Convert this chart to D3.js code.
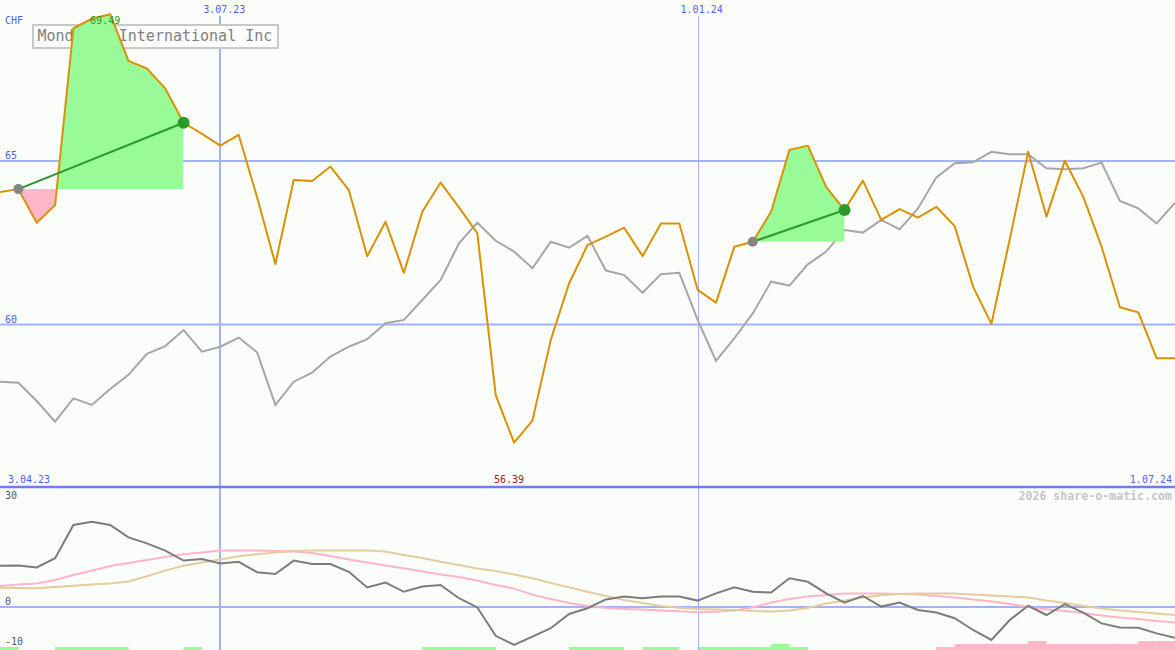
<!DOCTYPE html>
<html><head><meta charset="utf-8">
<script src="https://cdn.jsdelivr.net/npm/d3@7"></script>
<style>
html,body{margin:0;padding:0;background:#fbfdfb;}
svg{display:block;}
text{font-family:"DejaVu Sans Mono","Liberation Mono",monospace;}
</style></head><body>
<svg id="c" width="1175" height="650"></svg>
<script>
const title = "Mondelez International Inc";
const currency = "CHF";
const firstWeek = "2023-04-10";
const lastWeek = "2024-07-01";
const startLabel = "3.04.23";
const endLabel = "1.07.24";
const gridDates = ["2023-07-03", "2024-01-01"];
const gridDateLabels = ["3.07.23", "1.01.24"];
const priceTicks = [65, 60];
const lowerTicks = [30, 0, -10];
const watermark = "2026 share-o-matic.com";

// weekly closes (CHF)
const price = [64.05, 64.14, 63.11, 63.65, 69.06, 69.35, 69.49, 68.06, 67.83, 67.22,
  66.17, 65.83, 65.47, 65.80, 63.90, 61.85, 64.42, 64.39, 64.83, 64.11,
  62.09, 63.14, 61.58, 63.45, 64.34, 63.58, 62.79, 57.84, 56.39, 57.06,
  59.53, 61.26, 62.43, 62.69, 62.96, 62.09, 63.09, 63.09, 61.06, 60.67,
  62.38, 62.53, 63.45, 65.34, 65.47, 64.21, 63.50, 64.40, 63.20, 63.53,
  63.27, 63.60, 63.01, 61.16, 60.02, 62.61, 65.28, 63.30, 65.01, 63.91,
  62.38, 60.53, 60.37, 58.97, 58.97];
// benchmark (rebased)
const bench = [58.25, 58.22, 57.66, 57.03, 57.74, 57.54, 58.03, 58.46, 59.10, 59.34,
  59.83, 59.17, 59.32, 59.60, 59.15, 57.54, 58.25, 58.53, 59.02, 59.32,
  59.55, 60.04, 60.14, 60.75, 61.36, 62.48, 63.11, 62.56, 62.23, 61.72,
  62.53, 62.35, 62.71, 61.65, 61.51, 60.97, 61.54, 61.58, 60.14, 58.89,
  59.58, 60.34, 61.31, 61.19, 61.84, 62.23, 62.89, 62.81, 63.20, 62.91,
  63.55, 64.50, 64.93, 64.96, 65.28, 65.21, 65.21, 64.78, 64.75, 64.78,
  64.95, 63.78, 63.55, 63.09, 63.72];
// lower indicator
const momentum = [10.3, 10.4, 9.9, 12.2, 20.5, 21.3, 20.5, 17.4, 15.9, 14.1,
  11.6, 12.0, 10.9, 11.3, 8.7, 8.25, 11.6, 10.75, 10.75, 8.8,
  4.9, 6.1, 3.8, 5.1, 5.5, 2.2, -0.1, -7.2, -9.5, -7.4,
  -5.3, -1.75, -0.3, 1.9, 2.6, 2.2, 2.6, 2.6, 1.6, 3.4,
  4.9, 3.8, 3.6, 7.2, 6.3, 3.4, 1.1, 2.75, 0.1, 1.1,
  -0.75, -1.4, -2.8, -5.75, -8.25, -3.25, 0.3, -2.0, 0.7, -1.4,
  -4.1, -5.1, -5.2, -6.6, -7.7];
const avgFast = [5.25, 5.6, 5.9, 6.75, 8.0, 9.1, 10.25, 11.0, 11.75, 12.5,
  13.2, 13.6, 14.1, 14.1, 14.1, 14.0, 13.9, 13.5, 12.75, 11.9,
  11.1, 10.4, 9.7, 8.9, 8.1, 7.5, 6.6, 5.5, 4.6, 3.1,
  2.0, 1.0, 0.25, -0.25, -0.5, -0.65, -0.9, -1.05, -1.3, -1.2,
  -0.9, -0.1, 1.1, 2.0, 2.6, 3.0, 3.4, 3.4, 3.4, 3.25,
  3.1, 2.75, 2.4, 1.9, 1.4, 0.75, 0, -0.55, -1.0, -1.5,
  -2.1, -2.6, -3.0, -3.5, -3.9];
const avgSlow = [4.8, 4.75, 4.7, 5.0, 5.3, 5.6, 5.9, 6.4, 7.7, 9.1,
  10.3, 11.1, 11.9, 12.7, 13.2, 13.6, 14.0, 14.1, 14.1, 14.1,
  14.1, 13.9, 13.0, 12.25, 11.3, 10.5, 9.6, 9.0, 8.1, 7.2,
  6.0, 4.9, 3.8, 2.75, 1.75, 1.0, 0.25, -0.2, -0.5, -0.6,
  -0.75, -1.0, -1.1, -0.9, -0.25, 0.9, 1.6, 2.4, 2.95, 3.25,
  3.4, 3.4, 3.4, 3.1, 2.9, 2.6, 2.4, 1.6, 1.0, 0.25,
  -0.4, -0.9, -1.25, -1.6, -2.0];
const signalBars = [1, 0, 0, 1, 1, 1, 1, 0, 0, 0,
  1, 0, 0, 0, 0, 0, 0, 0, 0, 0,
  0, 0, 0, 1, 1, 1, 1, 0, 0, 0,
  0, 1, 1, 1, 0, 1, 1, 0, 1, 1,
  1, 1, 2, 1, 0, 0, 0, 0, 0, 0,
  0, -1, -2, -2, -2, -2, -3, -2, -2, -2,
  -2, -2, -3, -3, -3];
// highlighted trend segments (start week index, end week index)
const trendStart = [1, 41];
const trendEnd = [10, 46];

const parse = d3.utcParse("%Y-%m-%d");
const week0 = parse(firstWeek);
const dates = price.map((_, i) => d3.utcDay.offset(week0, 7 * i));

const svg = d3.select("#c");
const W = 1175, H = 650;
const bg = "#fbfdfb";
const gridCol = "#a3b2f3";
const blue = "#4f5ff0";

const x = d3.scaleUtc().domain([week0, parse(lastWeek)]).range([0, W]);
const y = d3.scaleLinear().domain([60, 65]).range([324.5, 161]);
const yl = d3.scaleLinear().domain([-10, 30]).range([647, 487]);
const yb = d3.scaleLinear().domain([0, 3]).range([H, 641]);

svg.append("rect").attr("width", W).attr("height", H).attr("fill", bg);

// clip paths
const defs = svg.append("defs");
defs.append("clipPath").attr("id", "top").append("rect").attr("x", 0).attr("y", 0).attr("width", W).attr("height", 486);
defs.append("clipPath").attr("id", "bot").append("rect").attr("x", 0).attr("y", 488).attr("width", W).attr("height", H - 488);

// bars in lower panel
svg.append("g").selectAll("rect").data(signalBars.map((v, i) => ({v, i})).filter(d => d.v !== 0))
  .join("rect")
  .attr("x", d => x(dates[d.i]))
  .attr("width", d => x(d3.utcDay.offset(dates[d.i], 7)) - x(dates[d.i]))
  .attr("y", d => yb(Math.abs(d.v)))
  .attr("height", d => H - yb(Math.abs(d.v)))
  .attr("fill", d => d.v > 0 ? "#98fb98" : "#ffb6c8");

// grid lines
priceTicks.forEach(t => {
  svg.append("line").attr("x1", 0).attr("x2", W).attr("y1", y(t)).attr("y2", y(t))
    .attr("stroke", gridCol).attr("stroke-width", 2);
});
svg.append("line").attr("x1", 0).attr("x2", W).attr("y1", yl(0)).attr("y2", yl(0))
  .attr("stroke", gridCol).attr("stroke-width", 2);
gridDates.forEach((d, k) => {
  const gx = Math.round(x(parse(d))) + (k === 0 ? 0 : 0.5);
  svg.append("line").attr("x1", gx).attr("x2", gx).attr("y1", 16).attr("y2", H)
    .attr("stroke", gridCol).attr("stroke-width", k === 0 ? 2 : 1);
  svg.append("text").attr("x", x(parse(d)) + 4).attr("y", 13).attr("text-anchor", "middle")
    .attr("font-size", 10).attr("fill", blue).text(gridDateLabels[k]);
});

// axis separator
svg.append("line").attr("x1", 0).attr("x2", W).attr("y1", 487).attr("y2", 487)
  .attr("stroke", "#6f7fe9").attr("stroke-width", 2.5);

// labels
svg.append("text").attr("x", 5).attr("y", 24).attr("font-size", 10).attr("fill", blue).text(currency);
priceTicks.forEach(t => {
  svg.append("text").attr("x", 5).attr("y", y(t) - 2).attr("font-size", 10).attr("fill", blue).text(t);
});
svg.append("text").attr("x", 8).attr("y", 483).attr("font-size", 10).attr("fill", blue).text(startLabel);
svg.append("text").attr("x", 1172).attr("y", 483).attr("font-size", 10).attr("fill", blue)
  .attr("text-anchor", "end").text(endLabel);
lowerTicks.forEach(t => {
  const ty = yl(t) <= 487 ? yl(t) + 12 : yl(t) - 2;
  svg.append("text").attr("x", 5).attr("y", ty).attr("font-size", 10)
    .attr("fill", "#555").text(t);
});
svg.append("text").attr("x", 1172).attr("y", 500).attr("text-anchor", "end")
  .attr("font-size", 11.6).attr("font-weight", "bold").attr("fill", "#c6c6c6").text(watermark);

// title box
svg.append("rect").attr("x", 33).attr("y", 25).attr("width", 245).attr("height", 23)
  .attr("fill", bg).attr("stroke", "#c8c8c8").attr("stroke-width", 2);
svg.append("text").attr("x", 37.5).attr("y", 41).attr("font-family", "Liberation Mono")
  .attr("font-size", 15).attr("fill", "#808080").text(title);

const gTop = svg.append("g").attr("clip-path", "url(#top)");

// benchmark line
const line = d3.line().x((d, i) => x(dates[i])).y(d => y(d));
gTop.append("path").datum(bench).attr("d", line).attr("fill", "none")
  .attr("stroke", "#a6a6a6").attr("stroke-width", 2);

// trend highlight areas
trendStart.forEach((s, k) => {
  const e = trendEnd[k];
  const base = y(price[s]);
  const idx = d3.range(s, e + 1);
  const area = d3.area().x(i => x(dates[i])).y0(base).y1(i => y(price[i]));
  const x0 = x(dates[s]), x1 = x(dates[e]);
  defs.append("clipPath").attr("id", "up" + k).append("rect")
    .attr("x", x0).attr("y", 0).attr("width", x1 - x0).attr("height", base);
  defs.append("clipPath").attr("id", "dn" + k).append("rect")
    .attr("x", x0).attr("y", base).attr("width", x1 - x0).attr("height", 486 - base);
  gTop.append("path").datum(idx).attr("d", area).attr("fill", "#98fb98").attr("clip-path", `url(#up${k})`);
  gTop.append("path").datum(idx).attr("d", area).attr("fill", "#ffb6c8").attr("clip-path", `url(#dn${k})`);
});

// price line
gTop.append("path").datum(price).attr("d", line).attr("fill", "none")
  .attr("stroke", "#da9100").attr("stroke-width", 2).attr("stroke-linejoin", "round");

// trend lines and markers
trendStart.forEach((s, k) => {
  const e = trendEnd[k];
  gTop.append("line").attr("x1", x(dates[s])).attr("y1", y(price[s]))
    .attr("x2", x(dates[e])).attr("y2", y(price[e])).attr("stroke", "#2a9a2a").attr("stroke-width", 2);
  gTop.append("circle").attr("cx", x(dates[s])).attr("cy", y(price[s])).attr("r", 5).attr("fill", "#858585");
  gTop.append("circle").attr("cx", x(dates[e])).attr("cy", y(price[e])).attr("r", 6).attr("fill", "#2a9a2a");
});

// max / min labels
const iMax = d3.maxIndex(price), iMin = d3.minIndex(price);
svg.append("text").attr("x", x(dates[iMax]) - 5).attr("y", 24).attr("text-anchor", "middle")
  .attr("font-size", 10).attr("fill", "#22a022").text(price[iMax].toFixed(2));
svg.append("text").attr("x", x(dates[iMin]) - 5).attr("y", 483).attr("text-anchor", "middle")
  .attr("font-size", 10).attr("fill", "#a01818").text(price[iMin].toFixed(2));

// lower panel lines
const gBot = svg.append("g").attr("clip-path", "url(#bot)");
const lline = d3.line().x((d, i) => x(dates[i])).y(d => yl(d));
gBot.append("path").datum(avgFast).attr("d", lline).attr("fill", "none").attr("stroke", "#ffb4c8").attr("stroke-width", 2);
gBot.append("path").datum(avgSlow).attr("d", lline).attr("fill", "none").attr("stroke", "#e4cc9c").attr("stroke-width", 2);
gBot.append("path").datum(momentum).attr("d", lline).attr("fill", "none").attr("stroke", "#7c7c7c").attr("stroke-width", 2);
</script>
</body></html>
